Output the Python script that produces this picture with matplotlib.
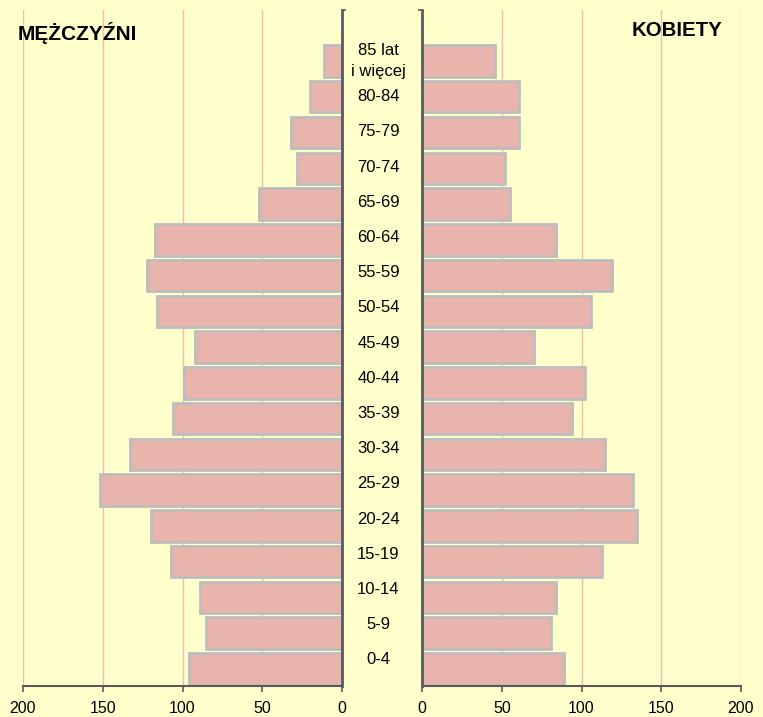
import matplotlib
matplotlib.use("Agg")
import matplotlib.pyplot as plt
import matplotlib.transforms as mtransforms

categories = ["0-4", "5-9", "10-14", "15-19", "20-24", "25-29", "30-34", "35-39",
              "40-44", "45-49", "50-54", "55-59", "60-64", "65-69", "70-74",
              "75-79", "80-84", "85 lat\ni więcej"]
men = [96, 85, 89, 107, 120, 152, 133, 106, 99, 92, 116, 122, 117, 52, 28, 32, 20, 11]
women = [89, 81, 84, 113, 135, 132, 115, 94, 102, 70, 106, 119, 84, 55, 52, 61, 61, 46]
xticks = [0, 50, 100, 150, 200]

plt.rcParams['font.family'] = ['Liberation Sans', 'DejaVu Sans']

BG = '#FFFFCC'
BAR = '#E8B4AC'
EDGE = '#BDBDBD'
GRID = '#EBBDB4'
SPINE = '#5A5A5A'

W, H = 763, 717
fig = plt.figure(figsize=(W / 100, H / 100), dpi=100, facecolor=BG)

bottom = 1 - 686 / H
top = 1 - 9.5 / H
axL = fig.add_axes([23 / W, bottom, 319 / W, top - bottom], facecolor=BG)
axR = fig.add_axes([422 / W, bottom, 319 / W, top - bottom], facecolor=BG)

ypos = list(range(len(categories)))
ylim = (-0.48, 18.44)

for ax, vals in ((axL, men), (axR, women)):
    ax.barh(ypos, vals, height=0.88, color=BAR, edgecolor=EDGE, linewidth=2.0, zorder=2)
    ax.set_xlim(0, 200)
    ax.set_ylim(*ylim)
    ax.set_xticks(xticks)
    ax.set_xticklabels([str(t) for t in xticks], fontsize=11.5)
    ax.tick_params(axis='x', direction='out', length=4, width=1.2, color=SPINE, pad=7)
    ax.xaxis.grid(True, color=GRID, linewidth=1, zorder=0)
    ax.set_axisbelow(True)
    for s in ax.spines.values():
        s.set_visible(False)
    ax.spines['bottom'].set_visible(True)
    ax.spines['bottom'].set_color(SPINE)
    ax.spines['bottom'].set_linewidth(1.5)
    ax.set_yticks([ylim[1]])
    ax.set_yticklabels([])
    ax.tick_params(axis='y', direction='out', length=3, width=1.2, color=SPINE)

axL.invert_xaxis()
axL.spines['right'].set_visible(True)
axL.spines['right'].set_color(SPINE)
axL.spines['right'].set_linewidth(2)
axL.yaxis.tick_right()
axR.spines['left'].set_visible(True)
axR.spines['left'].set_color(SPINE)
axR.spines['left'].set_linewidth(2)
axR.yaxis.tick_left()

# category labels in the gap between the two panels
trans = mtransforms.blended_transform_factory(fig.transFigure, axL.transData)
for i, lab in enumerate(categories):
    off = 0.25 * max(16 - i, 0) / 16
    axL.text(378.5 / W, i + off, lab, transform=trans, ha='center', va='center',
             fontsize=12, linespacing=1.45, clip_on=False)

fig.text(18 / W, 1 - 33 / H, "MĘŻCZYŹNI", fontsize=15, fontweight='bold',
         ha='left', va='center')
fig.text(722.5 / W, 1 - 31 / H, "KOBIETY", fontsize=14.7, fontweight='bold',
         ha='right', va='center')

fig.savefig("out.png", dpi=100, facecolor=BG)
